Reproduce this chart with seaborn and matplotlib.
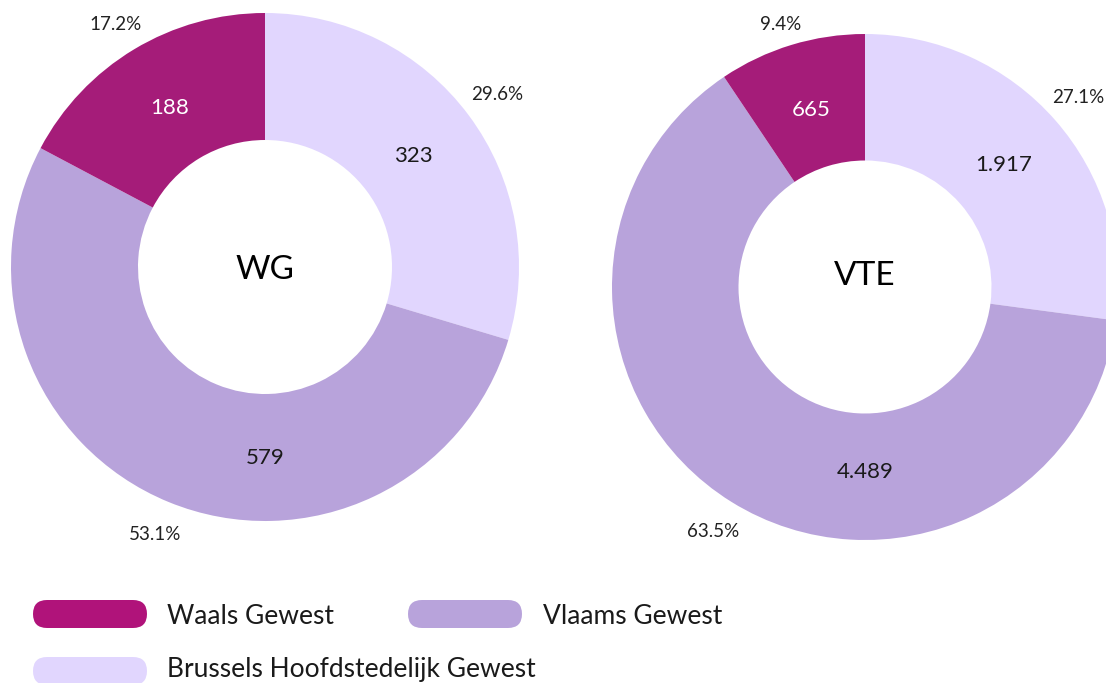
import matplotlib
matplotlib.use("Agg")
import matplotlib.pyplot as plt
from matplotlib.patches import FancyBboxPatch
import seaborn as sns
import numpy as np

# ---- data ----
regions = ["Brussels Hoofdstedelijk Gewest", "Vlaams Gewest", "Waals Gewest"]
wg_values = [323, 579, 188]
vte_values = [1917, 4489, 665]
wg_pct = ["29.6%", "53.1%", "17.2%"]
vte_pct = ["27.1%", "63.5%", "9.4%"]
wg_labels = ["323", "579", "188"]
vte_labels = ["1.917", "4.489", "665"]
titles = ["WG", "VTE"]
legend_order = ["Waals Gewest", "Vlaams Gewest", "Brussels Hoofdstedelijk Gewest"]

colors = {"Brussels Hoofdstedelijk Gewest": "#E1D6FE",
          "Vlaams Gewest": "#B8A3DB",
          "Waals Gewest": "#A51C79"}
legend_colors = {"Brussels Hoofdstedelijk Gewest": "#E1D6FE",
                 "Vlaams Gewest": "#B8A3DB",
                 "Waals Gewest": "#B0137A"}
value_text_colors = {"Brussels Hoofdstedelijk Gewest": "#1a1a1a",
                     "Vlaams Gewest": "#1a1a1a",
                     "Waals Gewest": "white"}
# the large segment's value label sits at the bottom of the ring
bottom_label = {"Vlaams Gewest"}

sns.set_theme(style="white")
plt.rcParams['font.family'] = ['Lato', 'DejaVu Sans']

W, H = 1106, 683
fig = plt.figure(figsize=(W / 100, H / 100), dpi=100)
ax = fig.add_axes([0, 0, 1, 1])

donuts = [
    (wg_values, wg_pct, wg_labels, (265, H - 267), 254, H - 270, 0.75),
    (vte_values, vte_pct, vte_labels, (865, H - 287), 253, H - 276, 0.73),
]

for (vals, pcts, labs, center, R, ty, bdist), title in zip(donuts, titles):
    wedges, _ = ax.pie(vals, colors=[colors[r] for r in regions], startangle=90,
                       counterclock=False, center=center, radius=R,
                       wedgeprops=dict(width=R * 0.5, linewidth=0))
    for w, r, p, l in zip(wedges, regions, pcts, labs):
        mid = np.deg2rad((w.theta1 + w.theta2) / 2)
        if r in bottom_label:
            ang_in, dist = np.deg2rad(-90), bdist
        else:
            ang_in, dist = mid, 0.73
        xi = center[0] + dist * R * np.cos(ang_in)
        yi = center[1] + dist * R * np.sin(ang_in)
        ax.text(xi, yi, l, ha="center", va="center", fontsize=16,
                color=value_text_colors[r])
        xo = min(center[0] + 1.14 * R * np.cos(mid), W - 28)
        yo = min(center[1] + 1.14 * R * np.sin(mid), H - 24)
        ax.text(xo, yo, p, ha="center", va="center", fontsize=13.5, color="#222222")
    ax.text(center[0], ty, title, ha="center", va="center",
            fontsize=24, color="black")

# legend
legend_pos = [(33, 614, 167, 616), (408, 614, 543, 616), (33, 671, 167, 670)]
for name, (px, py, tx, tyl) in zip(legend_order, legend_pos):
    ax.add_patch(FancyBboxPatch((px, H - py - 14), 114, 28,
                                boxstyle="round,pad=0,rounding_size=14",
                                facecolor=legend_colors[name], edgecolor="none",
                                clip_on=False))
    ax.text(tx, H - tyl, name, ha="left", va="center", fontsize=19, color="#1a1a1a")

ax.set_xlim(0, W)
ax.set_ylim(0, H)
ax.set_aspect("equal")
ax.axis("off")

fig.savefig("out.png", dpi=100)
